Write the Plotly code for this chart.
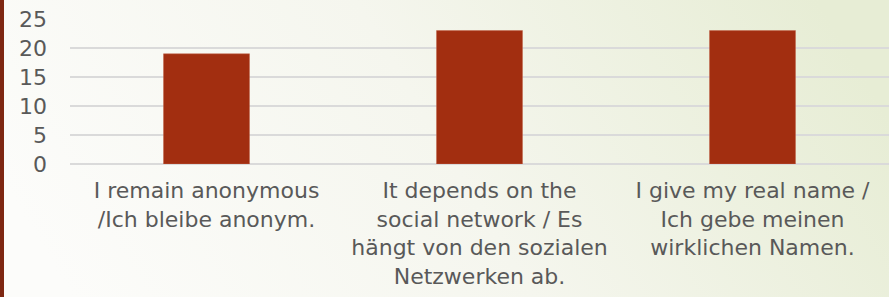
import plotly.graph_objects as go
import urllib.parse

categories = [
    "I remain anonymous<br>/Ich bleibe anonym.",
    "It depends on the<br>social network / Es<br>hängt von den sozialen<br>Netzwerken ab.",
    "I give my real name /<br>Ich gebe meinen<br>wirklichen Namen.",
]
values = [19, 23, 23]
y_ticks = [0, 5, 10, 15, 20, 25]

W, H = 889, 297
ML, MR, MT, MB = 70, 0, 19, 133
PW = W - ML - MR
PH = H - MT - MB

svg = (
    "<svg xmlns='http://www.w3.org/2000/svg' width='889' height='297'>"
    "<defs><linearGradient id='g' x1='0' y1='0.6' x2='1' y2='0.4'>"
    "<stop offset='0' stop-color='#fcfcfa'/>"
    "<stop offset='0.5' stop-color='#f5f6ee'/>"
    "<stop offset='1' stop-color='#e7edd5'/>"
    "</linearGradient></defs>"
    "<rect width='889' height='297' fill='url(#g)'/></svg>"
)
bg_src = "data:image/svg+xml;charset=utf-8," + urllib.parse.quote(svg)

font_fam = "DejaVu Sans"
txt_col = "#595959"

fig = go.Figure(
    go.Bar(
        x=categories,
        y=values,
        marker=dict(color="#a22e10", line=dict(color="#c0654a", width=0.5)),
    )
)

fig.update_layout(
    width=W,
    height=H,
    margin=dict(l=ML, r=MR, t=MT, b=MB, pad=0),
    paper_bgcolor="rgba(0,0,0,0)",
    plot_bgcolor="rgba(0,0,0,0)",
    bargap=0.685,
    showlegend=False,
    font=dict(family=font_fam, color=txt_col),
    images=[
        dict(
            source=bg_src,
            xref="paper",
            yref="paper",
            x=-ML / PW,
            y=1 + MT / PH,
            sizex=W / PW,
            sizey=H / PH,
            xanchor="left",
            yanchor="top",
            sizing="stretch",
            layer="below",
        )
    ],
    shapes=[
        dict(
            type="rect",
            xref="paper",
            yref="paper",
            x0=-ML / PW,
            x1=(-ML + 4) / PW,
            y0=-MB / PH,
            y1=1 + MT / PH,
            fillcolor="#7e2712",
            line=dict(width=0),
            layer="above",
        )
    ],
)

fig.update_xaxes(
    showgrid=False,
    showline=False,
    zeroline=False,
    ticks="",
    tickfont=dict(size=22, color=txt_col, family=font_fam),
    ticklabelstandoff=11,
)
fig.update_yaxes(
    range=[0, 25],
    tickvals=y_ticks,
    showgrid=True,
    gridcolor="#dadada",
    gridwidth=1.5,
    zeroline=True,
    zerolinecolor="#dadada",
    zerolinewidth=1.5,
    showline=False,
    ticks="",
    tickfont=dict(size=22, color=txt_col, family=font_fam),
    ticklabelstandoff=22,
)

fig.write_html(
    "out.html",
    config={"displayModeBar": False},
    post_script="document.body.style.margin='0';document.body.style.overflow='hidden';",
)
